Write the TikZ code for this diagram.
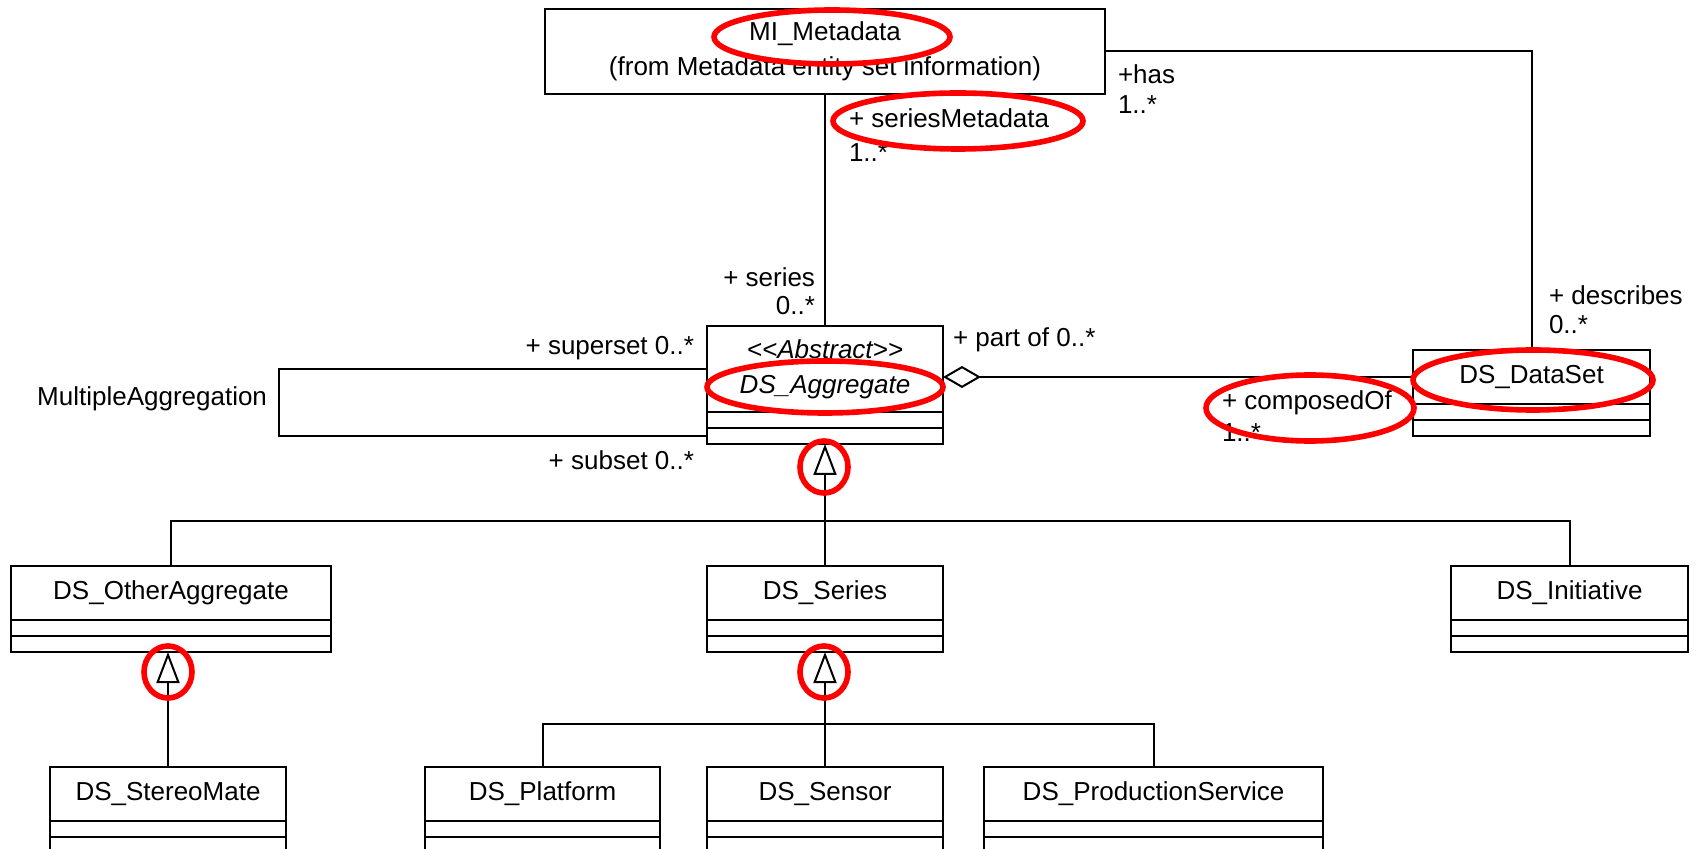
\documentclass[tikz,border=0pt]{standalone}
\usepackage{fontspec}
\setmainfont{Liberation Sans}
\usetikzlibrary{arrows.meta}

\begin{document}
\begin{tikzpicture}[x=0.5pt,y=-0.5pt,line width=1pt,
    font=\fontsize{13}{17.5}\selectfont,
    classname/.style={draw,anchor=north,inner sep=0pt,outer sep=0pt,minimum height=27pt},
    compart/.style={draw,anchor=north,inner sep=0pt,outer sep=0pt,minimum height=8pt},
    lbl/.style={inner sep=0pt},
    gen/.style={-{Triangle[open,length=15.5pt,width=11.5pt]}},
    aggr/.style={-{Diamond[open,length=19pt,width=11pt]}},
    hilite/.style={red,line width=2.8pt}]
  \useasboundingbox (0,0) rectangle (1701,849);
  \node [classname,minimum width=280pt,minimum height=42.5pt,align=center] (mi) at (825,9)
    {MI\_Metadata\\(from Metadata entity set information)};
  \node [classname,minimum width=118pt,minimum height=43pt,align=center] (aggregate) at (825,326)
    {\textit{<\kern0pt<Abstract>\kern0pt>}\\\textit{DS\_Aggregate}};
  \node [compart,minimum width=118pt] (aggregate-a) at (aggregate.south) {};
  \node [compart,minimum width=118pt] (aggregate-o) at (aggregate-a.south) {};
  \foreach \nm/\x/\y/\w/\txt in {dataset/1531.5/350/118.5/DS\_DataSet,
      otheragg/171/566/160/DS\_OtherAggregate, series/825/566/118/DS\_Series,
      initiative/1569.5/566/118.5/DS\_Initiative, stereomate/168/767/118/DS\_StereoMate,
      platform/542.5/767/117.5/DS\_Platform, sensor/825/767/118/DS\_Sensor,
      prodservice/1153.5/767/169.5/DS\_ProductionService} {
    \node [classname,minimum width=\w pt] (\nm) at (\x,\y) {\txt};
    \node [compart,minimum width=\w pt] (\nm-a) at (\nm.south) {};
    \node [compart,minimum width=\w pt] (\nm-o) at (\nm-a.south) {};
  }

  \draw (mi.south) -- (aggregate.north);
  \draw (mi.east) -| (dataset.north);
  \draw [aggr] (dataset.west) -- (dataset.west -| aggregate.east);
  \coordinate (loop) at (279,402);
  \draw (aggregate.west) -| (loop) |- (aggregate-o.west);

  \coordinate (fork1) at (825,521);
  \coordinate (fork2) at (825,724);
  \draw [gen] (fork1) -- (aggregate-o.south);
  \draw (otheragg.north) |- (initiative.north |- fork1) -- (initiative.north);
  \draw (series.north) -- (fork1);
  \draw [gen] (fork2) -- (series-o.south);
  \draw (platform.north) |- (prodservice.north |- fork2) -- (prodservice.north);
  \draw (sensor.north) -- (fork2);
  \draw [gen] (stereomate.north) -- (stereomate.north |- otheragg-o.south);

  \node [lbl,anchor=west] (l1) at (848,118) {+ seriesMetadata};
  \node [lbl,anchor=west] (l2) at (848,153) {1..*};
  \node [lbl,anchor=west] (l3) at (1117,74) {+has};
  \node [lbl,anchor=west] (l4) at (1117,105) {1..*};
  \node [lbl,anchor=east] (l5) at (816,277) {+ series};
  \node [lbl,anchor=east] (l6) at (816,306) {0..*};
  \node [lbl,anchor=east] (l7) at (695,348) {+ superset 0..*};
  \node [lbl,anchor=east] (l8) at (695,460) {+ subset 0..*};
  \node [lbl,anchor=east] (l9) at (268,399) {MultipleAggregation};
  \node [lbl,anchor=west] (l10) at (952,340) {+ part of 0..*};
  \node [lbl,anchor=west] (l11) at (1221,403) {+ composedOf};
  \node [lbl,anchor=west] (l12) at (1221,433) {1..*};
  \node [lbl,anchor=west] (l13) at (1548,295) {+ describes};
  \node [lbl,anchor=west] (l14) at (1548,325) {0..*};

  \draw [hilite] (832,37) ellipse [x radius=118,y radius=27];
  \draw [hilite] (958,121) ellipse [x radius=125,y radius=28];
  \draw [hilite] (825,387) ellipse [x radius=118,y radius=26];
  \draw [hilite] (1310,408) ellipse [x radius=104,y radius=33];
  \draw [hilite] (1533,380) ellipse [x radius=120,y radius=30];
  \draw [hilite] (824,467) ellipse [x radius=24,y radius=26];
  \draw [hilite] (824,672) ellipse [x radius=24,y radius=26];
  \draw [hilite] (168,672) ellipse [x radius=24,y radius=26];
\end{tikzpicture}
\end{document}
